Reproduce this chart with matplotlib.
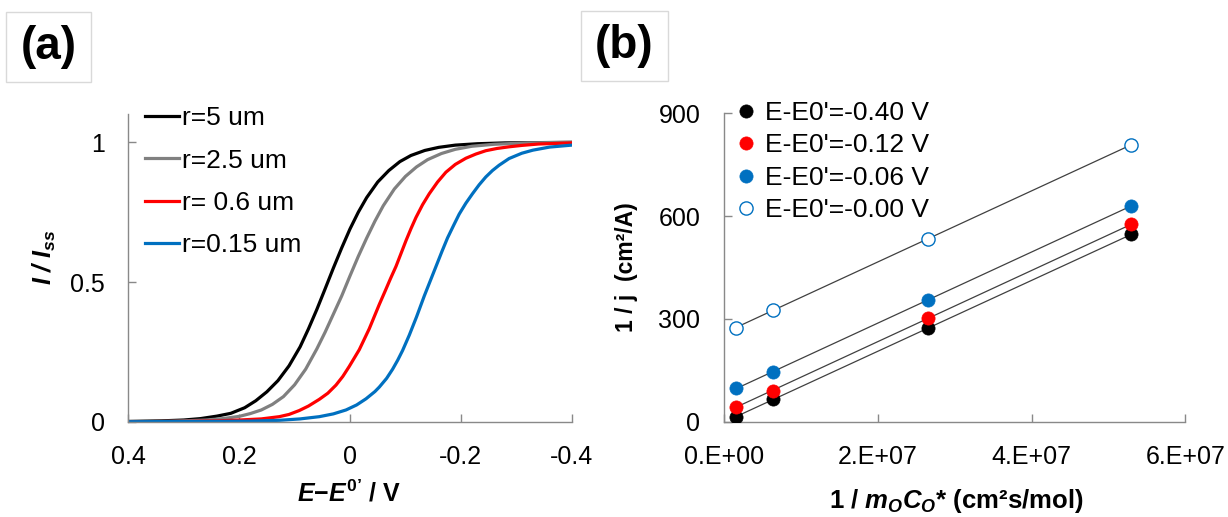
import numpy as np
import matplotlib
matplotlib.use("Agg")
from matplotlib import pyplot as plt
from matplotlib.patches import Rectangle

plt.rcParams['font.family'] = ['Liberation Sans', 'DejaVu Sans']
plt.rcParams['mathtext.fontset'] = 'custom'
plt.rcParams['mathtext.rm'] = 'Liberation Sans:bold'
plt.rcParams['mathtext.it'] = 'Liberation Sans:bold:italic'
plt.rcParams['mathtext.bf'] = 'Liberation Sans:bold'

# ---- panel (a): normalised steady-state voltammograms
radius_labels = ["r=5 um", "r=2.5 um", "r= 0.6 um", "r=0.15 um"]
curve_colors = ["black", "#808080", "#FF0000", "#0070C0"]

E_r5 = [0.40, 0.34, 0.30, 0.27, 0.24, 0.215, 0.19, 0.17, 0.15, 0.13, 0.11, 0.09, 0.075,
        0.06, 0.045, 0.03, 0.015, 0.0, -0.015, -0.03, -0.05, -0.07, -0.09, -0.11, -0.135,
        -0.16, -0.19, -0.23, -0.28, -0.40]
I_r5 = [0.001, 0.003, 0.006, 0.011, 0.020, 0.030, 0.050, 0.075, 0.107, 0.147, 0.200, 0.268,
        0.332, 0.401, 0.475, 0.550, 0.622, 0.690, 0.750, 0.802, 0.858, 0.899, 0.931, 0.953,
        0.971, 0.982, 0.990, 0.995, 0.998, 1.000]

E_r25 = [0.40, 0.34, 0.30, 0.26, 0.23, 0.20, 0.18, 0.16, 0.14, 0.12, 0.10, 0.08, 0.06,
         0.045, 0.03, 0.015, 0.0, -0.015, -0.03, -0.045, -0.06, -0.08, -0.10, -0.12, -0.14,
         -0.165, -0.19, -0.22, -0.26, -0.32, -0.40]
I_r25 = [0.000, 0.001, 0.003, 0.006, 0.011, 0.019, 0.029, 0.042, 0.062, 0.090, 0.132, 0.188,
         0.260, 0.320, 0.385, 0.450, 0.522, 0.592, 0.657, 0.718, 0.773, 0.833, 0.878, 0.912,
         0.938, 0.960, 0.975, 0.986, 0.993, 0.998, 1.000]

E_r06 = [0.40, 0.30, 0.24, 0.20, 0.160, 0.1276, 0.110, 0.0915, 0.075, 0.0554, 0.040, 0.0253,
         0.013, 0.0013, -0.0168, -0.0348, -0.0529, -0.0637, -0.073, -0.083, -0.092, -0.101,
         -0.110, -0.119, -0.131, -0.143, -0.158, -0.173, -0.190, -0.209, -0.227, -0.245,
         -0.265, -0.287, -0.31, -0.34, -0.37, -0.40]
I_r06 = [0.000, 0.001, 0.003, 0.006, 0.010, 0.018, 0.026, 0.040, 0.056, 0.080, 0.102, 0.131,
         0.162, 0.198, 0.258, 0.333, 0.420, 0.469, 0.512, 0.556, 0.602, 0.648,
         0.691, 0.731, 0.777, 0.816, 0.858, 0.893, 0.921, 0.943, 0.958, 0.970,
         0.978, 0.984, 0.989, 0.994, 0.996, 0.998]

E_r015 = [0.40, 0.25, 0.18, 0.127, 0.09, 0.0554, 0.030, 0.0072, -0.012, -0.0289, -0.045,
          -0.0529, -0.066, -0.0769, -0.086, -0.0949, -0.107, -0.120, -0.134, -0.145, -0.155,
          -0.166, -0.176, -0.187, -0.197, -0.209, -0.221, -0.233, -0.245, -0.257, -0.269,
          -0.287, -0.31, -0.33, -0.36, -0.40]
I_r015 = [0.000, 0.001, 0.002, 0.005, 0.010, 0.018, 0.028, 0.042, 0.060, 0.082, 0.108,
          0.124, 0.155, 0.188, 0.220, 0.255, 0.310, 0.375, 0.450, 0.505, 0.555,
          0.610, 0.658, 0.703, 0.743, 0.782, 0.816, 0.848, 0.876, 0.899, 0.918,
          0.942, 0.961, 0.972, 0.983, 0.990]

# ---- panel (b): 1/j vs 1/(mO CO*)
inv_mc = [1.6e6, 6.4e6, 2.65e7, 5.3e7]
potential_labels = ["E-E0'=-0.40 V", "E-E0'=-0.12 V", "E-E0'=-0.06 V", "E-E0'=-0.00 V"]
inv_j_040 = [15, 65, 272, 547]
inv_j_012 = [44, 90, 302, 576]
inv_j_006 = [97, 146, 355, 630]
inv_j_000 = [274, 326, 534, 808]
b_ticks = [0, 2e7, 4e7, 6e7]
b_ticklabels = ["0.E+00", "2.E+07", "4.E+07", "6.E+07"]

W, H = 1228, 517
fig = plt.figure(figsize=(W / 100, H / 100), dpi=100)

spine_col = "#898989"
tick_fs = 18


def style_axes(ax):
    for s in ["top", "right"]:
        ax.spines[s].set_visible(False)
    for s in ["left", "bottom"]:
        ax.spines[s].set_color(spine_col)
        ax.spines[s].set_linewidth(1.0)
    ax.tick_params(direction="in", length=6, width=1.0, color=spine_col,
                   labelsize=tick_fs, pad=17)


ax1 = fig.add_axes([128.3 / W, 1 - 421.7 / H, (571.7 - 128.3) / W, (421.7 - 114.4) / H])
curves = [(E_r5, I_r5), (E_r25, I_r25), (E_r06, I_r06), (E_r015, I_r015)]
for (E, I), lab, col in zip(curves, radius_labels, curve_colors):
    ax1.plot(E, I, color=col, lw=2.3, label=lab, solid_joinstyle="round")
ax1.set_xlim(0.4, -0.4)
ax1.set_ylim(0, 1.1)
ax1.set_xticks([0.4, 0.2, 0, -0.2, -0.4])
ax1.set_xticklabels(["0.4", "0.2", "0", "-0.2", "-0.4"])
ax1.set_yticks([0, 0.5, 1])
ax1.set_yticklabels(["0", "0.5", "1"])
style_axes(ax1)
ax1.legend(loc="upper left", bbox_to_anchor=(0.037, 1.026), frameon=False,
           fontsize=19, handlelength=1.29, handletextpad=0.11, labelspacing=0.69,
           borderpad=0, borderaxespad=0)

ax2 = fig.add_axes([723.9 / W, 1 - 421.7 / H, (1185.3 - 723.9) / W, (421.7 - 113.3) / H])
series = [inv_j_040, inv_j_012, inv_j_006, inv_j_000]
face = ["black", "#FF0000", "#0070C0", "white"]
edge = ["black", "#FF0000", "#0070C0", "#0070C0"]
x = np.array(inv_mc)
for ys in series:
    k, b = np.polyfit(x, ys, 1)
    ax2.plot([x[0], x[-1]], [k * x[0] + b, k * x[-1] + b], color="#404040", lw=0.9, zorder=2)
for ys, lab, fc, ec in zip(series, potential_labels, face, edge):
    ax2.plot(x, ys, ls="none", marker="o", ms=9.5, mfc=fc, mec=ec,
             mew=1.0 if fc == "white" else 0.5, label=lab, zorder=3)
ax2.set_xlim(0, 6e7)
ax2.set_ylim(0, 900)
ax2.set_xticks(b_ticks)
ax2.set_xticklabels(b_ticklabels)
ax2.set_yticks([0, 300, 600, 900])
style_axes(ax2)
ax2.legend(loc="upper left", bbox_to_anchor=(0.024, 1.040), frameon=False,
           fontsize=19, handlelength=0.8, handletextpad=0.34, labelspacing=0.32,
           borderpad=0, borderaxespad=0)

# axis titles
fig.text(44 / W, 1 - 257 / H, r"$I$ / $I_{ss}$", rotation=90, ha="center", va="center",
         fontsize=18, fontweight="bold", fontstyle="italic")
fig.text(349.6 / W, 1 - 501.7 / H, r"$E\mathrm{-}E^{0’}$ / V", ha="center", va="baseline",
         fontsize=18, fontweight="bold")
fig.text(627 / W, 1 - 266.7 / H, "1 / j  (cm²/A)", rotation=90, ha="center", va="center",
         fontsize=16.5, fontweight="bold")
fig.text(956 / W, 1 - 508 / H, r"1 / $m_OC_O$* (cm²s/mol)", ha="center", va="baseline",
         fontsize=18.5, fontweight="bold")

# panel letters in light boxes
for (x0, y0, x1, y1, letter) in [(6, 12, 90.7, 81.7, "(a)"), (581.2, 11, 667.6, 81, "(b)")]:
    fig.patches.append(Rectangle((x0 / W, 1 - y1 / H), (x1 - x0) / W, (y1 - y0) / H,
                                 transform=fig.transFigure, fill=False,
                                 edgecolor="#D9D9D9", lw=1.0))
    fig.text((x0 + x1) / 2 / W, 1 - (y0 + y1) / 2 / H, letter, ha="center", va="center",
             fontsize=33, fontweight="bold")

fig.savefig("out.png", dpi=100)
